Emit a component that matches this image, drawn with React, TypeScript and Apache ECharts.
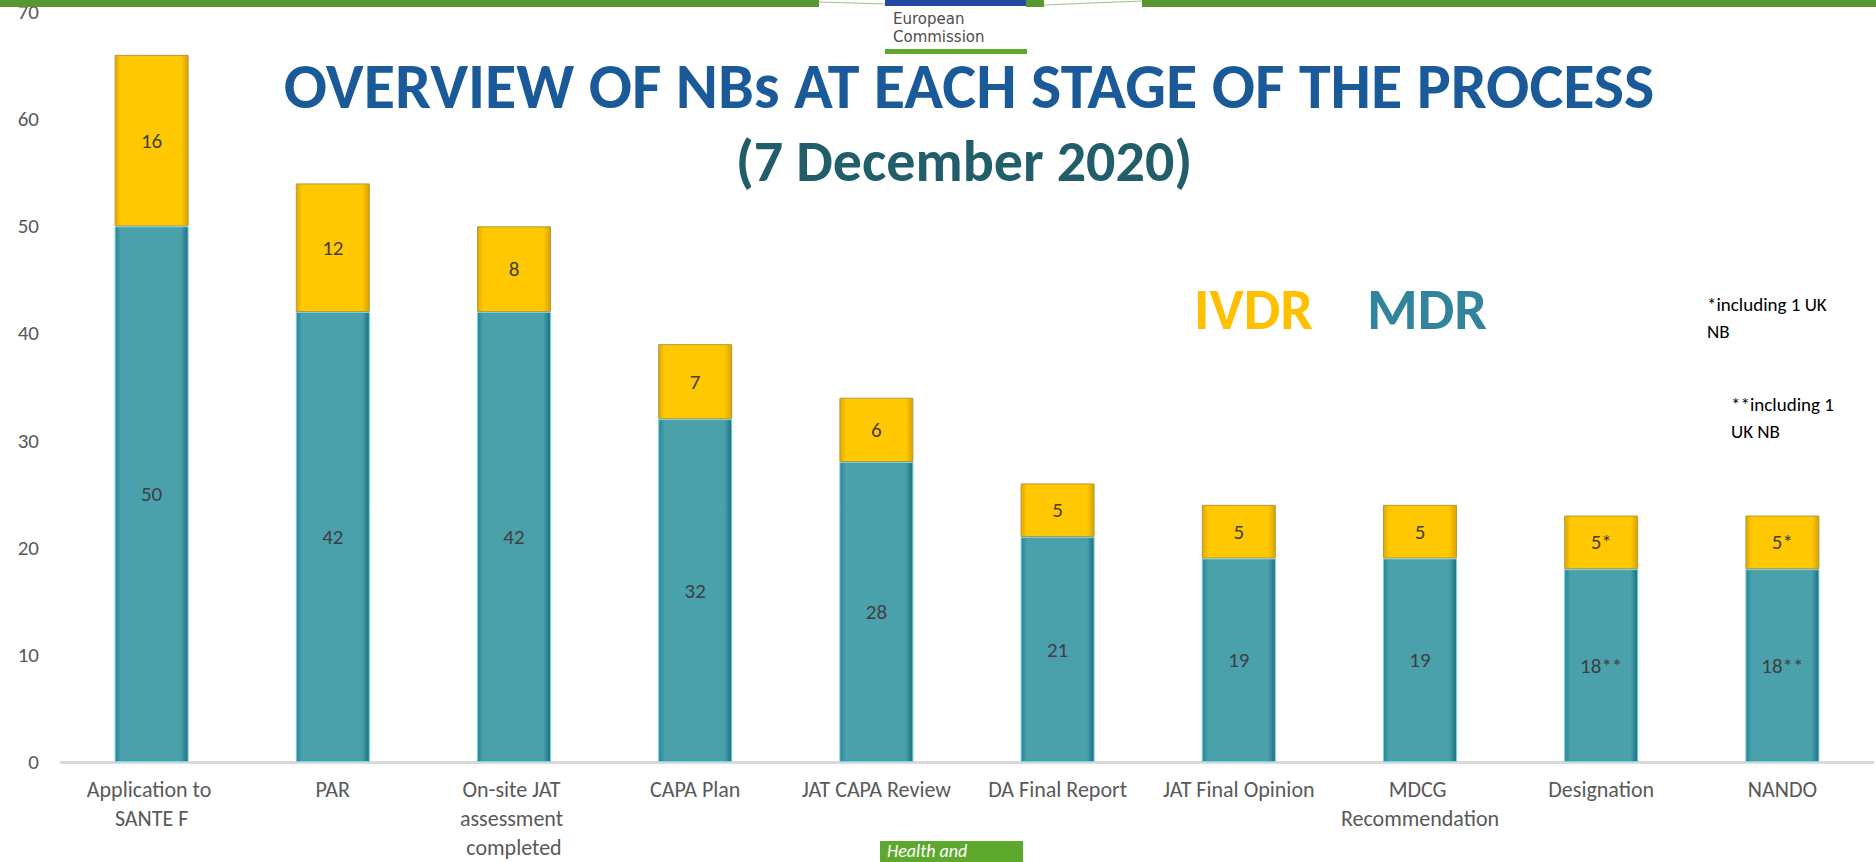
import React, { useEffect, useRef } from "react";
import * as echarts from "echarts";

const categories = [
  "Application to SANTE F",
  "PAR",
  "On-site JAT assessment completed",
  "CAPA Plan",
  "JAT CAPA Review",
  "DA Final Report",
  "JAT Final Opinion",
  "MDCG Recommendation",
  "Designation",
  "NANDO",
];
const mdrValues = [50, 42, 42, 32, 28, 21, 19, 19, 18, 18];
const ivdrValues = [16, 12, 8, 7, 6, 5, 5, 5, 5, 5];
const mdrLabels = ["50", "42", "42", "32", "28", "21", "19", "19", "18**", "18**"];
const ivdrLabels = ["16", "12", "8", "7", "6", "5", "5", "5", "5*", "5*"];
const yTicks = { min: 0, max: 70, interval: 10 };

const FONT = "Carlito, Calibri, Lato, 'Open Sans', sans-serif";

export default function App() {
  const ref = useRef<HTMLDivElement>(null);
  useEffect(() => {
    const chart = echarts.init(ref.current!, null, { renderer: "svg" });
    const tealGrad = new echarts.graphic.LinearGradient(0, 0, 1, 0, [
      { offset: 0, color: "#2a8495" },
      { offset: 0.08, color: "#4aa1ac" },
      { offset: 0.9, color: "#4aa1ac" },
      { offset: 1, color: "#1d6e80" },
    ]);
    const goldGrad = new echarts.graphic.LinearGradient(0, 0, 1, 0, [
      { offset: 0, color: "#e0a800" },
      { offset: 0.08, color: "#ffc800" },
      { offset: 0.9, color: "#ffc800" },
      { offset: 1, color: "#d9a300" },
    ]);
    chart.setOption({
      animation: false,
      textStyle: { fontFamily: FONT },
      grid: { left: 61, right: 3, top: 12, bottom: 100, containLabel: false },
      xAxis: {
        type: "category",
        data: categories,
        axisLine: { lineStyle: { color: "#d9d9d9", width: 3 } },
        axisTick: { show: false },
        axisLabel: {
          interval: 0,
          color: "#595959",
          fontSize: 22,
          fontFamily: FONT,
          width: 163,
          overflow: "break",
          lineHeight: 29,
          margin: 13,
        },
      },
      yAxis: {
        type: "value",
        min: yTicks.min,
        max: yTicks.max,
        interval: yTicks.interval,
        axisLine: { show: false },
        axisTick: { show: false },
        splitLine: { show: false },
        axisLabel: { color: "#595959", fontSize: 21, fontFamily: FONT, margin: 22 },
      },
      series: [
        {
          name: "MDR",
          type: "bar",
          stack: "total",
          barWidth: 74,
          data: mdrValues,
          itemStyle: { color: tealGrad, borderColor: "#6fd3e0", borderWidth: 1 },
          label: {
            show: true,
            position: "inside",
            color: "#404040",
            fontSize: 21,
            fontFamily: FONT,
            formatter: (p: any) => mdrLabels[p.dataIndex],
          },
        },
        {
          name: "IVDR",
          type: "bar",
          stack: "total",
          barWidth: 74,
          data: ivdrValues,
          itemStyle: { color: goldGrad, borderColor: "#b59a3c", borderWidth: 1 },
          label: {
            show: true,
            position: "inside",
            color: "#404040",
            fontSize: 21,
            fontFamily: FONT,
            formatter: (p: any) => ivdrLabels[p.dataIndex],
          },
        },
      ],
      graphic: [
        { type: "rect", z: 100, shape: { x: 0, y: 0, width: 819, height: 7 }, style: { fill: "#58962f" } },
        { type: "rect", z: 100, shape: { x: 1026, y: 0, width: 18, height: 7 }, style: { fill: "#58962f" } },
        { type: "rect", z: 100, shape: { x: 1142, y: 0, width: 734, height: 7 }, style: { fill: "#58962f" } },
        { type: "rect", z: 100, shape: { x: 885, y: 0, width: 141, height: 6 }, style: { fill: "#2447a0" } },
        { type: "line", z: 100, shape: { x1: 819, y1: 2, x2: 885, y2: 4 }, style: { stroke: "#9cc48a", lineWidth: 1 } },
        { type: "line", z: 100, shape: { x1: 1044, y1: 5, x2: 1142, y2: 1 }, style: { stroke: "#9cc48a", lineWidth: 1 } },
        {
          type: "text", z: 100, left: 893, top: 10,
          style: { text: "European\nCommission", fill: "#4d4d4d", font: `15px 'DejaVu Sans', sans-serif`, lineHeight: 18 },
        },
        { type: "rect", z: 100, shape: { x: 885, y: 49, width: 142, height: 5 }, style: { fill: "#5ea82e" } },
        {
          type: "text", z: 100, x: 969, y: 86,
          style: {
            text: "OVERVIEW OF NBs AT EACH STAGE OF THE PROCESS",
            fill: "#1b5a98", font: `bold 64px ${FONT}`, align: "center", verticalAlign: "middle",
          },
        },
        {
          type: "text", z: 100, x: 964, y: 161,
          style: {
            text: "(7 December 2020)",
            fill: "#215e6a", font: `bold 58px ${FONT}`, align: "center", verticalAlign: "middle",
          },
        },
        {
          type: "text", z: 100, x: 1194, y: 309,
          style: { text: "IVDR", fill: "#ffc000", font: `bold 58px ${FONT}`, verticalAlign: "middle" },
        },
        {
          type: "text", z: 100, x: 1367, y: 309,
          style: { text: "MDR", fill: "#31849b", font: `bold 58px ${FONT}`, verticalAlign: "middle" },
        },
        {
          type: "text", z: 100, left: 1707, top: 291,
          style: { text: "*including 1 UK\nNB", fill: "#000000", font: `19px ${FONT}`, lineHeight: 27 },
        },
        {
          type: "text", z: 100, left: 1731, top: 391,
          style: { text: "**including 1\nUK NB", fill: "#000000", font: `19px ${FONT}`, lineHeight: 27 },
        },
        { type: "rect", z: 100, shape: { x: 880, y: 841, width: 143, height: 21 }, style: { fill: "#5ea82e" } },
        {
          type: "text", z: 101, left: 887, top: 842,
          style: { text: "Health and", fill: "#ffffff", font: `italic 18px ${FONT}` },
        },
      ],
    });
    return () => chart.dispose();
  }, []);
  return (
    <div
      ref={ref}
      style={{ position: "fixed", left: 0, top: 0, width: 1876, height: 862, background: "#ffffff" }}
    />
  );
}
